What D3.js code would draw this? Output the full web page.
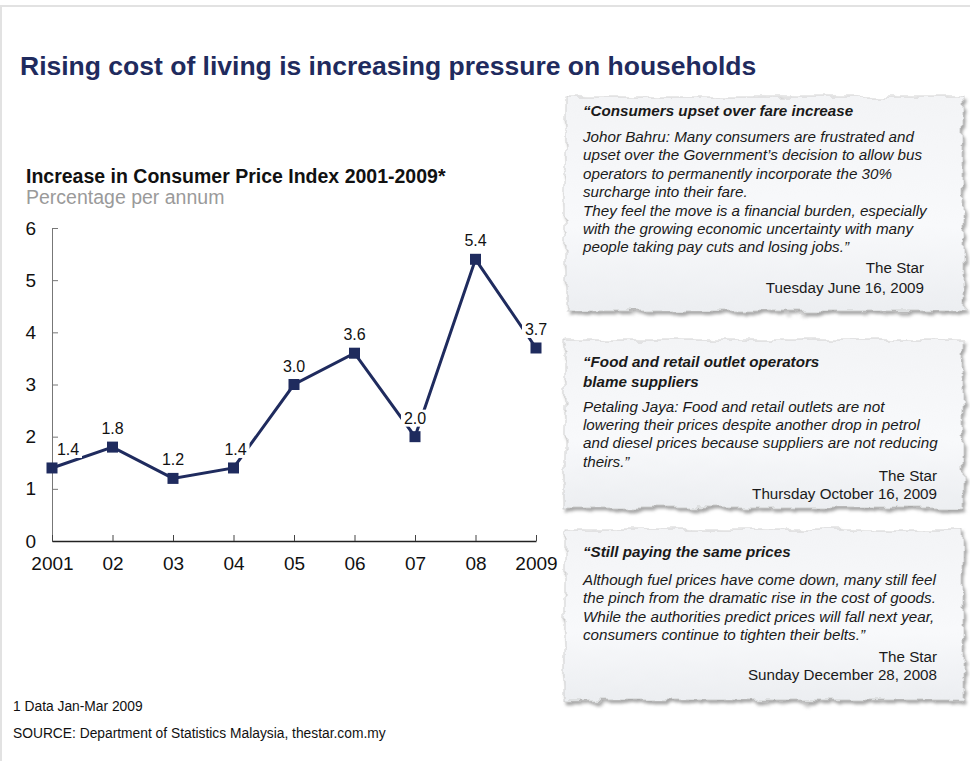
<!DOCTYPE html>
<html><head><meta charset="utf-8">
<script src="https://cdn.jsdelivr.net/npm/d3@7"></script>
<style>
body{margin:0;background:#fff;}
svg{display:block;font-family:"Liberation Sans",Arial,Helvetica,sans-serif;}
</style>
</head><body>
<svg id="c" width="970" height="761"></svg>
<script>
// ---- data ----
const years = ["2001","02","03","04","05","06","07","08","2009"];
const cpi = [1.4, 1.8, 1.2, 1.4, 3.0, 3.6, 2.0, 5.4, 3.7];
const yTicks = [0, 1, 2, 3, 4, 5, 6];
const mainTitle = "Rising cost of living is increasing pressure on households";
const chartTitle = "Increase in Consumer Price Index 2001-2009*";
const chartSubtitle = "Percentage per annum";
const footnote = "1 Data Jan-Mar 2009";
const sourceNote = "SOURCE: Department of Statistics Malaysia, thestar.com.my";
const clipHeadlines = [
  ["\u201CConsumers upset over fare increase"],
  ["\u201CFood and retail outlet operators", "blame suppliers"],
  ["\u201CStill paying the same prices"]
];
const clipBodies = [
  ["Johor Bahru: Many consumers are frustrated and",
   "upset over the Government\u2019s decision to allow bus",
   "operators to permanently incorporate the 30%",
   "surcharge into their fare.",
   "They feel the move is a financial burden, especially",
   "with the growing economic uncertainty with many",
   "people taking pay cuts and losing jobs.\u201D"],
  ["Petaling Jaya: Food and retail outlets are not",
   "lowering their prices despite another drop in petrol",
   "and diesel prices because suppliers are not reducing",
   "theirs.\u201D"],
  ["Although fuel prices have come down, many still feel",
   "the pinch from the dramatic rise in the cost of goods.",
   "While the authorities predict prices will fall next year,",
   "consumers continue to tighten their belts.\u201D"]
];
const clipSources = ["The Star", "The Star", "The Star"];
const clipDates = ["Tuesday June 16, 2009", "Thursday October 16, 2009", "Sunday December 28, 2008"];

// ---- drawing ----
const svg = d3.select("#c");
const navy = "#1f2b5e";

// frame
svg.append("rect").attr("x", 1).attr("y", 6).attr("width", 990).attr("height", 800)
  .attr("fill", "#fff").attr("stroke", "#e2e2e2").attr("stroke-width", 2);

// filters for torn paper
const defs = svg.append("defs");
const f = defs.append("filter").attr("id", "torn")
  .attr("x", "-5%").attr("y", "-10%").attr("width", "112%").attr("height", "125%");
f.append("feTurbulence").attr("type", "fractalNoise").attr("baseFrequency", "0.045 0.08")
  .attr("numOctaves", 3).attr("seed", 11).attr("result", "noise");
f.append("feDisplacementMap").attr("in", "SourceGraphic").attr("in2", "noise")
  .attr("scale", 10).attr("xChannelSelector", "R").attr("yChannelSelector", "G").attr("result", "torn");
f.append("feOffset").attr("in", "torn").attr("dx", 2).attr("dy", 3).attr("result", "off");
f.append("feFlood").attr("flood-color", "#8a8a8a").attr("flood-opacity", 0.75).attr("result", "fl");
f.append("feComposite").attr("in", "fl").attr("in2", "off").attr("operator", "in").attr("result", "sc");
f.append("feGaussianBlur").attr("in", "sc").attr("stdDeviation", 1.8).attr("result", "shadow");
const fm = f.append("feMerge");
fm.append("feMergeNode").attr("in", "shadow");
fm.append("feMergeNode").attr("in", "torn");

const grad = defs.append("linearGradient").attr("id", "paper").attr("x1", 0).attr("y1", 0).attr("x2", 0).attr("y2", 1);
grad.append("stop").attr("offset", "0%").attr("stop-color", "#f3f4f6");
grad.append("stop").attr("offset", "60%").attr("stop-color", "#f8f9fb");
grad.append("stop").attr("offset", "100%").attr("stop-color", "#eceef1");

// titles
svg.append("text").attr("x", 20).attr("y", 75).text(mainTitle)
  .attr("font-size", 26.5).attr("font-weight", "bold").attr("fill", navy);
svg.append("text").attr("x", 26).attr("y", 183).text(chartTitle)
  .attr("font-size", 19.5).attr("font-weight", "bold").attr("fill", "#111");
svg.append("text").attr("x", 26).attr("y", 204).text(chartSubtitle)
  .attr("font-size", 19.5).attr("fill", "#9a9a9a");

// scales
const x = d3.scalePoint().domain(years).range([52, 536]);
const y = d3.scaleLinear().domain([0, 6]).range([541, 228]);

// axes
const gy = svg.append("g").attr("transform", "translate(52,0)")
  .call(d3.axisLeft(y).tickValues(yTicks).tickFormat(d3.format("d")).tickSizeInner(-6).tickSizeOuter(0).tickPadding(16));
gy.select(".domain").attr("stroke", "#777");
gy.selectAll(".tick line").attr("stroke", "#777");
gy.selectAll(".tick text").attr("font-size", 19).attr("fill", "#111")
  .attr("font-family", "Liberation Sans, Arial, sans-serif");

const gx = svg.append("g").attr("transform", "translate(0,541)")
  .call(d3.axisBottom(x).tickSizeInner(-6).tickSizeOuter(0).tickPadding(16));
gx.select(".domain").attr("stroke", "#222").attr("stroke-width", 1.5);
gx.selectAll(".tick line").attr("stroke", "#444");
gx.selectAll(".tick text").attr("font-size", 19).attr("fill", "#111")
  .attr("font-family", "Liberation Sans, Arial, sans-serif");

// line
const pts = years.map((yr, i) => ({yr, v: cpi[i], i}));
svg.append("path").datum(pts)
  .attr("d", d3.line().x(d => x(d.yr)).y(d => y(d.v)))
  .attr("fill", "none").attr("stroke", navy).attr("stroke-width", 3).attr("stroke-linejoin", "miter");

// markers
svg.append("g").selectAll("rect").data(pts).join("rect")
  .attr("x", d => x(d.yr) - 5.5).attr("y", d => y(d.v) - 5.5)
  .attr("width", 11).attr("height", 11).attr("fill", navy);

// value labels with white background
const lg = svg.append("g").selectAll("g").data(pts).join("g")
  .attr("transform", d => `translate(${x(d.yr) + (d.i === 0 ? 16 : (d.i === 3 ? 2 : 0))},${y(d.v) - 13})`);
lg.append("rect").attr("x", -14).attr("y", -14).attr("width", 28).attr("height", 17).attr("fill", "#fff");
lg.append("text").attr("text-anchor", "middle").attr("font-size", 16).attr("fill", "#111")
  .text(d => d3.format(".1f")(d.v));

// footnotes
svg.append("text").attr("x", 13).attr("y", 711).text(footnote).attr("font-size", 13.8).attr("fill", "#111");
svg.append("text").attr("x", 13).attr("y", 738).text(sourceNote).attr("font-size", 13.8).attr("fill", "#111");

// clippings
const boxTop = [97, 340, 530];
const boxH = [214, 168, 170];
const headY = [116, 367, 557];
const bodyGap = [26, 25, 28];
const srcGap = [21, 14.5, 21.5];
const dateGap = [20, 17.5, 18.5];
const rightX = [924, 937, 937];
clipHeadlines.forEach((hl, k) => {
  const g = svg.append("g");
  g.append("rect").attr("x", 565).attr("y", boxTop[k]).attr("width", 398).attr("height", boxH[k])
    .attr("fill", "url(#paper)").attr("stroke", "#c8c8c8").attr("stroke-width", 0.8)
    .attr("filter", "url(#torn)");
  const t = g.append("g").attr("fill", "#1a1a1a");
  hl.forEach((line, j) => {
    t.append("text").attr("x", 583).attr("y", headY[k] + j * 19.5).text(line)
      .attr("font-size", 15.2).attr("font-weight", "bold").attr("font-style", "italic");
  });
  const by = headY[k] + (hl.length - 1) * 19.5 + bodyGap[k];
  clipBodies[k].forEach((line, j) => {
    t.append("text").attr("x", 583).attr("y", by + j * 18.4).text(line)
      .attr("font-size", 15.2).attr("font-style", "italic");
  });
  const sy = by + (clipBodies[k].length - 1) * 18.4 + srcGap[k];
  t.append("text").attr("x", rightX[k]).attr("y", sy).attr("text-anchor", "end").text(clipSources[k]).attr("font-size", 15.2);
  t.append("text").attr("x", rightX[k]).attr("y", sy + dateGap[k]).attr("text-anchor", "end").text(clipDates[k]).attr("font-size", 15.2);
});
</script>
</body></html>
